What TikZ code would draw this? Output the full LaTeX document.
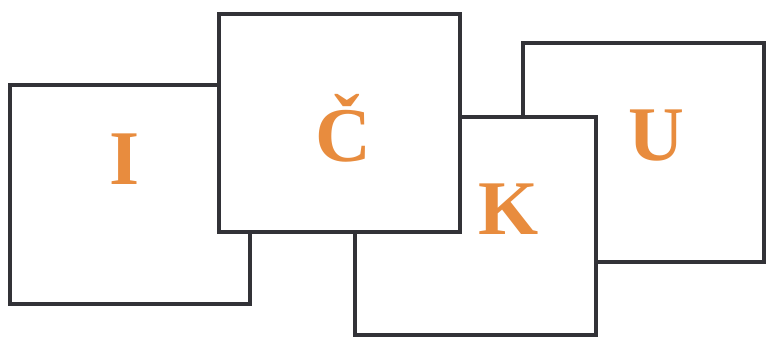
\documentclass[tikz,border=0pt]{standalone}
\usepackage{fontspec}
\newfontfamily\cardfont{Liberation Serif}[UprightFont=*-Bold]
\usepackage{tikz}
\definecolor{cardline}{RGB}{50,50,55}
\definecolor{letter}{RGB}{232,140,62}

\begin{document}
\begin{tikzpicture}[x=0.03cm, y=-0.03cm,
        card/.style={draw=cardline, fill=white, line width=0.1cm},
        lettr/.style={text=letter, anchor=base, inner sep=0pt, font=\cardfont\fontsize{66}{66}\selectfont}]
            \useasboundingbox[fill=white] (0,0) rectangle (767,336);
            \filldraw[card] (523,43) rectangle (764,262);
            \filldraw[card] (355,117) rectangle (596,335);
            \filldraw[card] (10,85) rectangle (250,304);
            \filldraw[card] (219,14) rectangle (460,232);
            \node[lettr] (I) at (125,184) {I};
            \node[lettr] (C) at (343,161) {Č};
            \node[lettr] (K) at (509,234) {K};
            \node[lettr] (U) at (656,160) {U};
        \end{tikzpicture}
\end{document}
